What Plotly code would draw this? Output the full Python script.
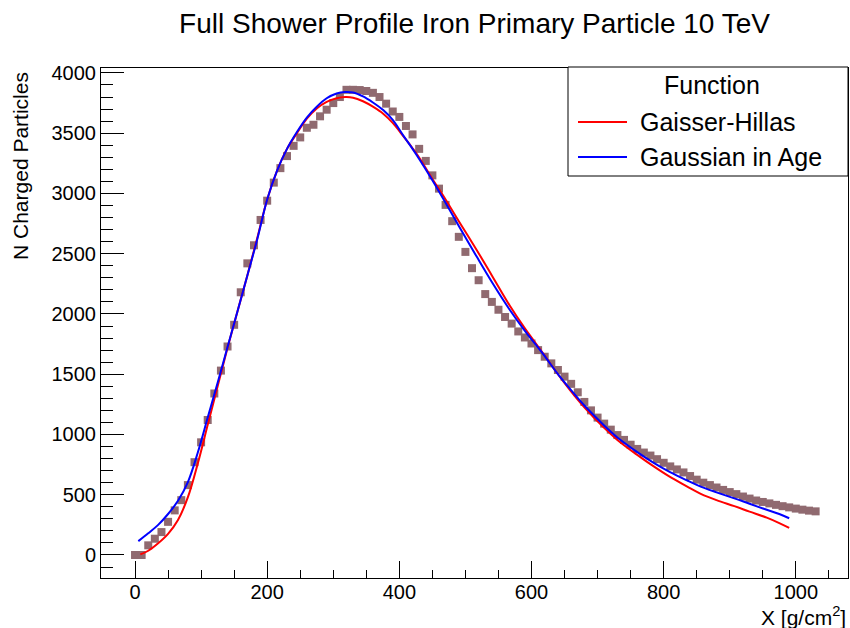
import plotly.graph_objects as go

# ---- data ----
depth = list(range(0, 1040, 10))
n_charged = [0, 0, 80, 135, 190, 275, 370, 455, 580, 770,
             935, 1120, 1340, 1530, 1730, 1910, 2180, 2420, 2570, 2780,
             2940, 3090, 3210, 3310, 3395, 3465, 3545, 3570, 3640, 3695,
             3750, 3800, 3860, 3860, 3858, 3850, 3835, 3800, 3745, 3680,
             3635, 3560, 3490, 3370, 3270, 3150, 3040, 2905, 2770, 2640,
             2515, 2380, 2280, 2165, 2100, 2035, 1975, 1920, 1855, 1805,
             1755, 1700, 1645, 1590, 1535, 1480, 1420, 1350, 1270, 1200,
             1140, 1090, 1040, 995, 955, 915, 880, 850, 825, 795,
             765, 735, 710, 685, 655, 625, 600, 580, 560, 540,
             522, 505, 485, 468, 452, 440, 428, 416, 405, 395,
             385, 376, 368, 362]

gh_x = [8, 20, 35, 50, 65, 80, 95, 110, 125, 140, 155, 170, 185, 200, 215, 230,
        245, 260, 275, 290, 305, 318, 330, 345, 360, 376, 390, 406, 420, 431,
        450, 466, 490, 517, 540, 567, 590, 618, 640, 658, 680, 708, 730, 759,
        785, 809, 835, 857, 880, 907, 930, 956, 975, 990]
gh_y = [5, 35, 97, 175, 290, 480, 760, 1080, 1400, 1720, 2020, 2320, 2630, 2950,
        3190, 3370, 3500, 3620, 3705, 3760, 3790, 3800, 3795, 3765, 3720, 3660,
        3585, 3475, 3375, 3290, 3120, 2985, 2770, 2531, 2320, 2070, 1880, 1670,
        1500, 1370, 1225, 1065, 955, 835, 735, 650, 570, 505, 455, 405, 360,
        310, 265, 225]

ga_x = [5, 20, 35, 50, 65, 80, 95, 110, 125, 140, 155, 170, 185, 200, 215, 230,
        245, 260, 275, 290, 305, 318, 330, 345, 360, 376, 390, 406, 420, 431,
        450, 466, 490, 517, 540, 567, 590, 618, 640, 658, 680, 708, 730, 759,
        785, 809, 835, 857, 880, 907, 930, 956, 975, 990]
ga_y = [115, 180, 250, 340, 450, 605, 850, 1140, 1430, 1725, 2020, 2320, 2620,
        2950, 3190, 3370, 3510, 3630, 3720, 3790, 3830, 3842, 3838, 3805, 3755,
        3690, 3610, 3480, 3370, 3278, 3110, 2960, 2730, 2476, 2265, 2035, 1860,
        1665, 1500, 1380, 1240, 1085, 975, 858, 765, 690, 620, 565, 520, 470,
        425, 375, 340, 305]

x_ticks = [0, 200, 400, 600, 800, 1000]
y_ticks = [0, 500, 1000, 1500, 2000, 2500, 3000, 3500, 4000]

FONT = "Liberation Sans, Arial, Helvetica, sans-serif"
W, H = 850, 628
L, R, T, B = 101, 2, 68, 50
PW, PH = W - L - R, H - T - B


def px(x):
    return (x - L) / PW


def py(y):
    return (H - B - y) / PH


fig = go.Figure()
fig.add_trace(go.Scatter(x=depth, y=n_charged, mode="markers", name="data",
                         marker=dict(symbol="square", size=8, color="#906a70"),
                         showlegend=False))
fig.add_trace(go.Scatter(x=gh_x, y=gh_y, mode="lines", name="Gaisser-Hillas",
                         line=dict(color="#ff0000", width=2, shape="spline"),
                         showlegend=False))
fig.add_trace(go.Scatter(x=ga_x, y=ga_y, mode="lines", name="Gaussian in Age",
                         line=dict(color="#0000ff", width=2, shape="spline"),
                         showlegend=False))

axis_common = dict(showline=True, linecolor="black", linewidth=1, mirror=True,
                   ticks="inside", tickcolor="black", tickwidth=1,
                   showgrid=False, zeroline=False,
                   tickfont=dict(family=FONT, size=20, color="black"))

fig.update_xaxes(range=[-51.5, 1079], tickvals=x_ticks, ticklen=17,
                 ticklabelstandoff=-4,
                 minor=dict(ticks="inside", ticklen=8, dtick=50, tick0=0,
                            tickcolor="black", showgrid=False),
                 **axis_common)
fig.update_yaxes(range=[-191, 4041], tickvals=y_ticks, ticklen=23,
                 minor=dict(ticks="inside", ticklen=12, dtick=100, tick0=0,
                            tickcolor="black", showgrid=False),
                 **axis_common)

shapes = []
annotations = []
# legend box
shapes.append(dict(type="rect", xref="paper", yref="paper",
                   x0=px(568), x1=px(848), y0=py(176), y1=py(67),
                   line=dict(color="black", width=1), fillcolor="white", layer="above"))
annotations.append(dict(xref="paper", yref="paper", x=px(712), y=py(85),
                        text="Function", showarrow=False, xanchor="center", yanchor="middle",
                        font=dict(family=FONT, size=25, color="black")))
for name, color, yc in [("Gaisser-Hillas", "#ff0000", 122), ("Gaussian in Age", "#0000ff", 157)]:
    shapes.append(dict(type="line", xref="paper", yref="paper",
                       x0=px(578), x1=px(627), y0=py(yc), y1=py(yc),
                       line=dict(color=color, width=2), layer="above"))
    annotations.append(dict(xref="paper", yref="paper", x=px(638), y=py(yc),
                            text=name, showarrow=False, xanchor="left", yanchor="middle",
                            font=dict(family=FONT, size=25, color="black")))

# axis titles
annotations.append(dict(xref="paper", yref="paper", x=px(20), y=py(70),
                        text="N Charged Particles", textangle=-90, showarrow=False,
                        xanchor="center", yanchor="top",
                        font=dict(family=FONT, size=21, color="black")))
annotations.append(dict(xref="paper", yref="paper", x=1.0, y=py(616),
                        text="X [g/cm<sup>2</sup>]", showarrow=False,
                        xanchor="right", yanchor="middle",
                        font=dict(family=FONT, size=21, color="black")))

fig.update_layout(
    width=W, height=H,
    margin=dict(l=L, r=R, t=T, b=B),
    paper_bgcolor="white", plot_bgcolor="white",
    title=dict(text="Full Shower Profile Iron Primary Particle 10 TeV",
               x=0.5, xref="paper", xanchor="center",
               y=1 - 23 / H, yref="container", yanchor="middle",
               font=dict(family=FONT, size=28, color="black")),
    shapes=shapes, annotations=annotations,
    showlegend=False,
)

fig.write_html("out.html")
